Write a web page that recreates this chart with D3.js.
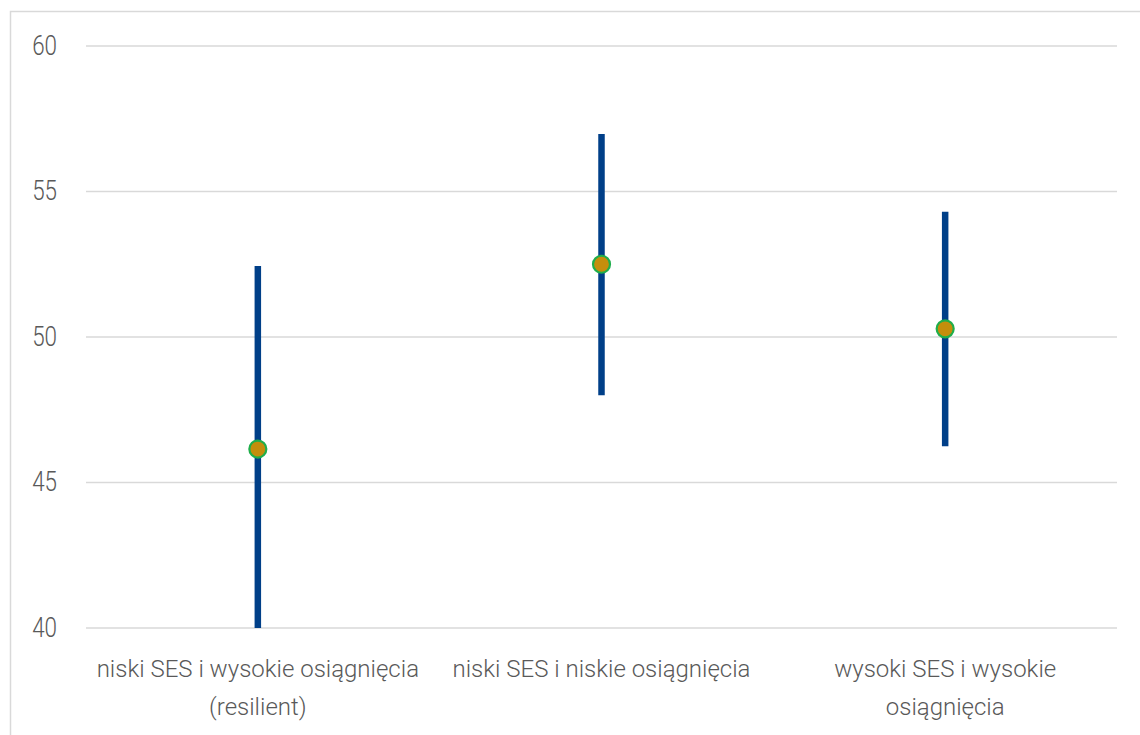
<!DOCTYPE html>
<html>
<head>
<meta charset="utf-8">
<script src="https://cdn.jsdelivr.net/npm/d3@7"></script>
<style>
  body { margin: 0; background: #fff; }
  text { font-family: "Roboto", "Liberation Sans", sans-serif; font-weight: 300; fill: #595959; }
</style>
</head>
<body>
<div id="chart"></div>
<script>
// data
const categories = [
    ["niski SES i wysokie osiągnięcia", "(resilient)"],
    ["niski SES i niskie osiągnięcia"],
    ["wysoki SES i wysokie", "osiągnięcia"]
]
const means = [46.15, 52.5, 50.28]
const lows = [39.86, 48.0, 46.25]
const highs = [52.44, 56.98, 54.3]
const yTicks = [40, 45, 50, 55, 60]

const W = 1140, H = 735
const margin = { left: 86, right: 23, top: 46, bottom: 107 }
const width = W - margin.left - margin.right
const height = H - margin.top - margin.bottom

const svg = d3.select('#chart')
    .append('svg')
    .attr('width', W)
    .attr('height', H)

// outer frame
svg.append('rect')
    .attr('x', 10.5).attr('y', 11.5)
    .attr('width', W).attr('height', H)
    .attr('fill', 'none')
    .attr('stroke', '#d9d9d9')
    .attr('stroke-width', 1.5)

const g = svg.append('g')
    .attr('transform', `translate(${margin.left}, ${margin.top})`)

const xScale = d3.scaleBand().domain(d3.range(categories.length)).range([0, width])
const yScale = d3.scaleLinear().domain([40, 60]).range([height, 0]).clamp(true)

// gridlines
g.selectAll('.grid')
    .data(yTicks)
    .enter().append('line')
    .attr('x1', 0).attr('x2', width)
    .attr('y1', d => yScale(d)).attr('y2', d => yScale(d))
    .attr('stroke', '#d9d9d9')
    .attr('stroke-width', 1.5)

// y tick labels (narrow digits, like a condensed face)
g.selectAll('.ytick')
    .data(yTicks)
    .enter().append('text')
    .attr('text-anchor', 'end')
    .attr('dominant-baseline', 'central')
    .style('font-size', '28px')
    .attr('transform', d => `translate(-29, ${yScale(d) - 1}) scale(0.8,1)`)
    .text(d => d)

const cx = i => xScale(i) + xScale.bandwidth() / 2

// error bars
g.selectAll('.bar')
    .data(means)
    .enter().append('line')
    .attr('x1', (d, i) => cx(i)).attr('x2', (d, i) => cx(i))
    .attr('y1', (d, i) => yScale(highs[i]))
    .attr('y2', (d, i) => yScale(lows[i]))
    .attr('stroke', '#003f88')
    .attr('stroke-width', 6.5)

// mean markers
g.selectAll('.dot')
    .data(means)
    .enter().append('circle')
    .attr('cx', (d, i) => cx(i))
    .attr('cy', d => yScale(d))
    .attr('r', 8.5)
    .attr('fill', '#c48e0c')
    .attr('stroke', '#1fae4b')
    .attr('stroke-width', 2.2)

// category labels
const lab = g.selectAll('.cat')
    .data(categories)
    .enter().append('text')
    .attr('text-anchor', 'middle')
    .style('font-size', '24px')
    .attr('transform', (d, i) => `translate(${cx(i)}, ${height + 49})`)
lab.selectAll('tspan')
    .data(d => d)
    .enter().append('tspan')
    .attr('x', 0)
    .attr('dy', (d, j) => j === 0 ? 0 : 38)
    .text(d => d)
</script>
</body>
</html>
